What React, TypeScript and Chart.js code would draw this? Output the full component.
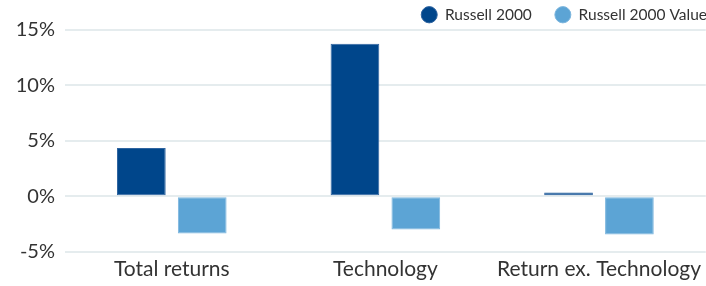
import React, { useEffect, useRef } from "react";
import { Chart, registerables } from "chart.js";

Chart.register(...registerables);

const categories = ["Total returns", "Technology", "Return ex. Technology"];
const russell2000 = [4.35, 13.75, 0.35];
const russell2000Value = [-3.35, -3.0, -3.45];
const yTicks = [-5, 0, 5, 10, 15];

const legendShift = {
  id: "legendShift",
  beforeDraw(chart: any) {
    const lg = chart.legend;
    if (lg) {
      lg.right = 730;
      lg.top = -16;
    }
  },
};

export default function App() {
  const ref = useRef<HTMLCanvasElement | null>(null);
  useEffect(() => {
    document.body.style.margin = "0";
    const ctx = ref.current!;
    const chart = new Chart(ctx, {
      type: "bar",
      data: {
        labels: categories,
        datasets: [
          {
            label: "Russell 2000",
            data: russell2000,
            backgroundColor: "#00468B",
            borderColor: "#2F64A0",
            borderWidth: 1,
            borderSkipped: false,
          },
          {
            label: "Russell 2000 Value",
            data: russell2000Value,
            backgroundColor: "#5CA4D5",
            borderColor: "#7DB6DE",
            borderWidth: 1,
            borderSkipped: false,
          },
        ],
      },
      plugins: [legendShift],
      options: {
        animation: false,
        responsive: false,
        maintainAspectRatio: false,
        layout: { padding: { left: 0, right: -6, top: 0, bottom: -1 } },
        datasets: { bar: { barPercentage: 0.8, categoryPercentage: 0.57 } },
        plugins: {
          tooltip: { enabled: false },
          legend: {
            position: "top",
            align: "end",
            maxHeight: 30,
            labels: {
              usePointStyle: true,
              pointStyle: "circle",
              pointStyleWidth: 16,
              boxWidth: 16,
              boxHeight: 11.5,
              padding: 23,
              color: "#333333",
              font: { family: "Lato", size: 15.5 },
            },
          },
        },
        scales: {
          x: {
            grid: { display: false, drawTicks: false },
            border: { display: false },
            ticks: {
              color: "#333333",
              font: { family: "Lato", size: 21 },
              padding: 5,
              maxRotation: 0,
            },
          },
          y: {
            min: -5,
            max: 15,
            afterBuildTicks: (axis: any) => {
              axis.ticks = yTicks.map((v) => ({ value: v }));
            },
            afterFit: (axis: any) => {
              axis.width = 65;
            },
            grid: { color: "#E5ECEE", lineWidth: 2, drawTicks: false },
            border: { display: false },
            ticks: {
              color: "#333333",
              font: { family: "Lato", size: 20 },
              padding: 10,
              callback: (v: any) => `${v}%`,
            },
          },
        },
      },
    });
    return () => chart.destroy();
  }, []);
  return (
    <div style={{ width: 706, height: 286 }}>
      <canvas ref={ref} width={706} height={286} />
    </div>
  );
}
